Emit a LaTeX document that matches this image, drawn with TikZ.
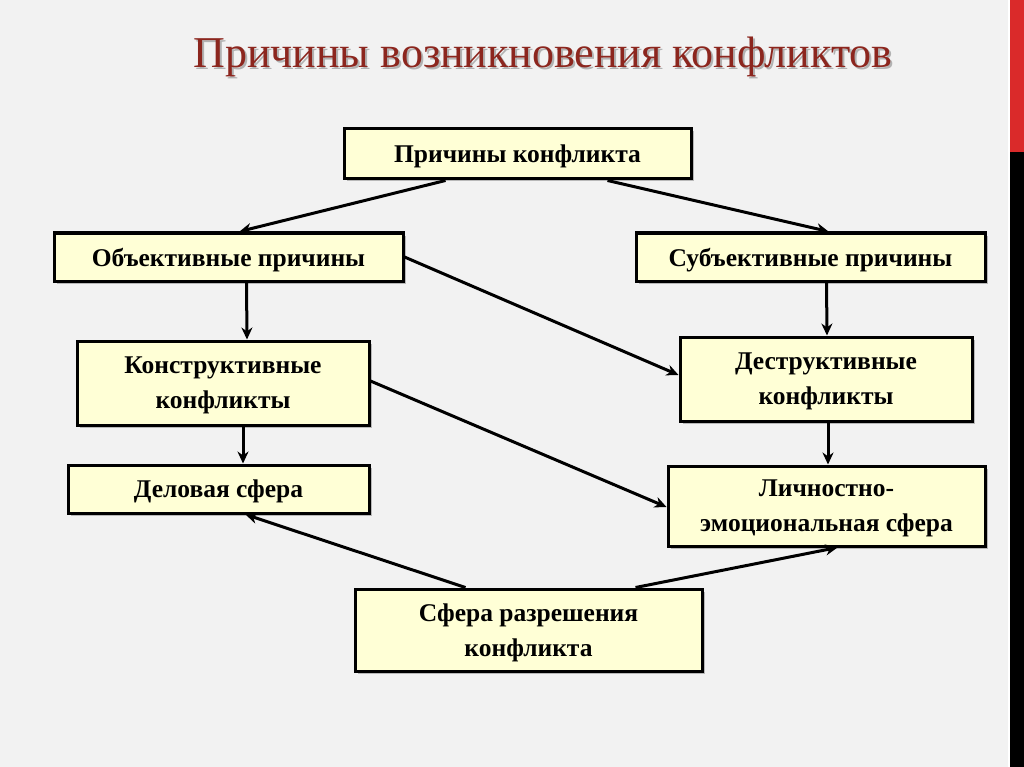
\documentclass[tikz,border=0pt]{standalone}
\usepackage{fontspec}
\setmainfont{Liberation Serif}
\usetikzlibrary{shadows,arrows.meta}
\definecolor{bg}{RGB}{242,242,242}
\definecolor{boxfill}{RGB}{255,255,214}
\definecolor{titlered}{RGB}{140,38,30}
\definecolor{stripred}{RGB}{218,42,42}
\tikzset{
  box/.style={draw=black, line width=3pt, fill=boxfill, align=center,
    font=\bfseries\fontsize{25.5}{35}\selectfont, inner sep=0pt, text depth=0pt,
    drop shadow={shadow xshift=2.5pt, shadow yshift=-2.5pt, opacity=0.5, fill=gray}},
  conn/.style={line width=3pt, -{Stealth[length=12pt,width=11pt]}},
}
\begin{document}
\begin{tikzpicture}[x=1pt,y=-1pt]
\useasboundingbox (0,0) rectangle (1024,767);
\fill[bg] (0,0) rectangle (1024,767);
\fill[white] (1008,0) rectangle (1010,767);
\fill[stripred] (1010,0) rectangle (1024,152);
\fill[black] (1010,152) rectangle (1024,767);
\node[text=gray!60, font=\fontsize{44}{52}\selectfont] at (545,59) {Причины возникновения конфликтов};
\node (title) [text=titlered, font=\fontsize{44}{52}\selectfont] at (543,57) {Причины возникновения конфликтов};
% boxes
\node (pk) [box, minimum width=347pt, minimum height=50pt] at (517.5,154) {Причины конфликта};
\node (ob) [box, minimum width=349pt, minimum height=48pt] at (228.5,257) {Объективные причины};
\node (sb) [box, minimum width=349pt, minimum height=48pt] at (810.5,257) {Субъективные причины};
\node (kk) [box, minimum width=292pt, minimum height=84pt] at (223,383) {Конструктивные\\конфликты};
\node (dk) [box, minimum width=292pt, minimum height=84pt] at (826,379) {Деструктивные\\конфликты};
\node (ds) [box, minimum width=301pt, minimum height=48pt] at (218.5,489) {Деловая сфера};
\node (le) [box, minimum width=317pt, minimum height=80pt] at (826.5,506) {Личностно-\\эмоциональная сфера};
\node (sr) [box, minimum width=347pt, minimum height=82pt] at (528.5,630) {Сфера разрешения\\конфликта};
% connectors
\coordinate (pk1) at ([xshift=-72pt]pk.south);
\coordinate (pk2) at ([xshift=90pt]pk.south);
\draw[conn] (pk1) -- ([xshift=11pt]ob.north);
\draw[conn] (pk2) -- ([xshift=18pt]sb.north);
\draw[conn] ([xshift=18pt]ob.south) -- ([xshift=24pt]kk.north);
\draw[conn] ([xshift=16pt]sb.south) -- ([xshift=1pt]dk.north);
\draw[conn] (ob.east) -- ([yshift=4pt]dk.west);
\draw[conn] ([yshift=2pt]kk.east) -- ([yshift=-1pt]le.west);
\draw[conn] ([xshift=20pt]kk.south) -- ([xshift=24.5pt]ds.north);
\draw[conn] ([xshift=2pt]dk.south) -- ([xshift=1.5pt]le.north);
\draw[conn] ([xshift=-63pt]sr.north) -- ([xshift=27pt]ds.south);
\draw[conn] ([xshift=107pt]sr.north) -- ([xshift=11pt]le.south);
\end{tikzpicture}
\end{document}
